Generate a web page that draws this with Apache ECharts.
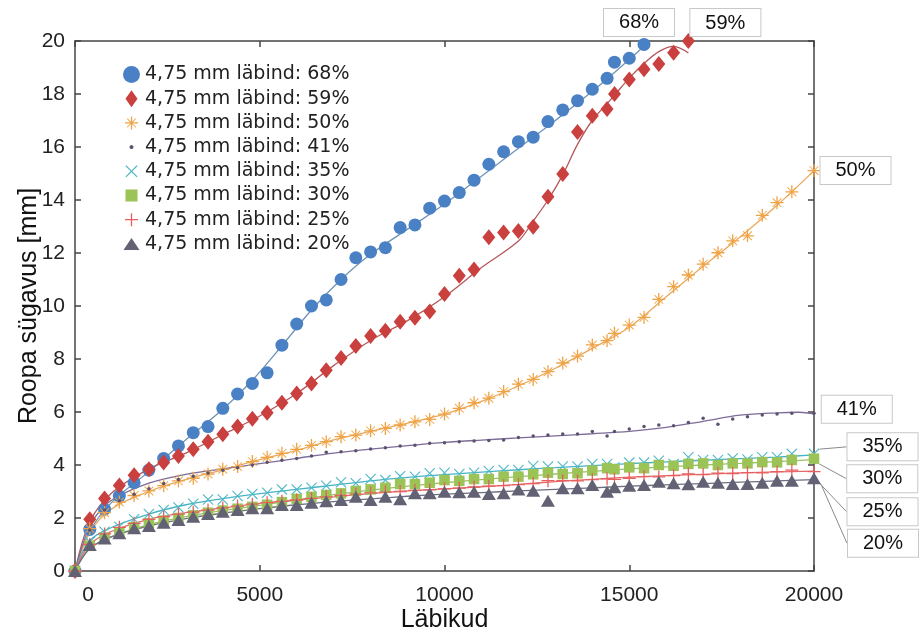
<!DOCTYPE html>
<html>
<head>
<meta charset="utf-8">
<script src="https://cdn.jsdelivr.net/npm/echarts@6/dist/echarts.min.js"></script>
<style>
  html, body { margin: 0; padding: 0; background: #fff; }
  #chart { width: 920px; height: 632px; }
</style>
</head>
<body>
<div id="chart"></div>
<script>
// Passes (x) at which rut depth was measured
const passes = [0, 400, 800, 1200, 1600, 2000, 2400, 2800, 3200, 3600, 4000, 4400, 4800, 5200, 5600,
  6000, 6400, 6800, 7200, 7600, 8000, 8400, 8800, 9200, 9600, 10000, 10400, 10800, 11200, 11600,
  12000, 12400, 12800, 13200, 13600, 14000, 14400, 14600, 15000, 15400, 15800, 16200, 16600, 17000,
  17400, 17800, 18200, 18600, 19000, 19400, 20000];

const shares = ['68%', '59%', '50%', '41%', '35%', '30%', '25%', '20%'];
const seriesNames = shares.map(s => '4,75 mm läbind: ' + s);

// Measured rut depth [mm]
const depth68 = [0, 1.57, 2.33, 2.83, 3.33, 3.81, 4.25, 4.72, 5.22, 5.45, 6.14, 6.68, 7.08, 7.48, 8.52,
  9.32, 10.0, 10.23, 11.0, 11.82, 12.04, 12.2, 12.96, 13.06, 13.69, 13.96, 14.28, 14.75, 15.35, 15.82,
  16.2, 16.37, 16.96, 17.4, 17.75, 18.18, 18.59, 19.2, 19.35, 19.87];
const depth59 = [0, 1.95, 2.74, 3.23, 3.61, 3.84, 4.09, 4.34, 4.59, 4.88, 5.16, 5.45, 5.75, 5.97, 6.35,
  6.7, 7.08, 7.58, 8.04, 8.49, 8.87, 9.07, 9.41, 9.56, 9.79, 10.45, 11.14, 11.38, 12.59, 12.77,
  12.83, 12.99, 14.12, 14.98, 16.57, 17.18, 17.43, 18.0, 18.55, 18.93, 19.13, 19.56, 20.0];
const depth50 = [0, 1.6, 2.2, 2.6, 2.85, 3.02, 3.22, 3.4, 3.5, 3.66, 3.84, 3.94, 4.13, 4.29, 4.44,
  4.59, 4.74, 4.88, 5.07, 5.13, 5.29, 5.38, 5.51, 5.63, 5.72, 5.92, 6.14, 6.35, 6.52, 6.77,
  7.05, 7.23, 7.52, 7.85, 8.11, 8.53, 8.69, 8.97, 9.28, 9.57, 10.25, 10.73, 11.17, 11.58,
  12.01, 12.46, 12.65, 13.42, 13.9, 14.31, 15.11];
const depth41 = [0, 1.55, 2.3, 2.65, 2.9, 3.1, 3.3, 3.45, 3.58, 3.7, 3.8, 3.9, 4.0, 4.1, 4.18,
  4.25, 4.34, 4.48, 4.5, 4.54, 4.6, 4.65, 4.72, 4.75, 4.82, 4.84, 4.88, 4.91, 4.92, 4.94,
  5.04, 5.09, 5.13, 5.17, 5.17, 5.26, 5.09, 5.26, 5.36, 5.45, 5.51, 5.48, 5.6, 5.76,
  5.54, 5.74, 5.82, 5.89, 5.92, 5.95, 5.95];
const depth35 = [0, 1.1, 1.48, 1.67, 1.95, 2.15, 2.3, 2.4, 2.54, 2.7, 2.7, 2.83, 2.91, 2.95, 3.08,
  3.08, 3.14, 3.22, 3.35, 3.31, 3.47, 3.43, 3.58, 3.56, 3.69, 3.71, 3.66, 3.71, 3.77, 3.81,
  3.81, 3.96, 3.94, 3.94, 3.94, 4.04, 4.04, 3.91, 4.09, 4.09, 4.16, 4.04, 4.29, 4.19,
  4.19, 4.25, 4.21, 4.29, 4.29, 4.42, 4.42];
const depth30 = [0, 0.95, 1.25, 1.45, 1.65, 1.8, 1.9, 2.0, 2.1, 2.2, 2.28, 2.35, 2.42, 2.5, 2.6,
  2.72, 2.8, 2.87, 2.93, 3.02, 3.08, 3.14, 3.28, 3.28, 3.33, 3.43, 3.4, 3.47, 3.47, 3.56,
  3.56, 3.65, 3.71, 3.66, 3.69, 3.79, 3.88, 3.84, 3.91, 3.88, 4.0, 3.97, 4.04, 4.06,
  4.0, 4.06, 4.06, 4.11, 4.1, 4.19, 4.24];
const depth25 = [0, 1.0, 1.4, 1.65, 1.8, 1.95, 2.05, 2.15, 2.22, 2.3, 2.38, 2.45, 2.52, 2.58, 2.63,
  2.68, 2.74, 2.8, 2.85, 2.9, 2.95, 2.98, 3.0, 3.04, 3.06, 3.1, 3.13, 3.17, 3.2, 3.22,
  3.26, 3.3, 3.41, 3.41, 3.4, 3.45, 3.48, 3.46, 3.5, 3.56, 3.55, 3.6, 3.66, 3.64,
  3.69, 3.68, 3.71, 3.7, 3.75, 3.81, 3.75];
const depth20 = [0, 0.98, 1.23, 1.42, 1.61, 1.7, 1.82, 1.92, 2.05, 2.15, 2.24, 2.3, 2.37, 2.37, 2.49,
  2.49, 2.58, 2.63, 2.68, 2.8, 2.68, 2.8, 2.71, 2.93, 2.93, 2.99, 2.97, 2.99, 2.91, 2.93,
  3.08, 3.03, 2.65, 3.12, 3.12, 3.25, 2.99, 3.16, 3.22, 3.25, 3.37, 3.31, 3.27, 3.37,
  3.33, 3.28, 3.28, 3.33, 3.41, 3.41, 3.5];

// Fitted trend curves [passes, depth]
const fit68 = [[0, 0], [400, 1.5], [1000, 2.6], [2000, 3.75], [3000, 4.95], [4000, 6.1], [4800, 7.2],
  [5600, 8.5], [6400, 9.85], [7200, 11.0], [8000, 11.95], [9000, 12.9], [10000, 13.85], [11000, 14.9],
  [12000, 15.95], [13000, 17.0], [14000, 18.1], [15000, 19.3], [15400, 19.8]];
const fit59 = [[0, 0], [400, 1.85], [1000, 2.95], [2000, 3.85], [3000, 4.45], [4000, 5.15], [5000, 5.85],
  [6000, 6.7], [7000, 7.75], [8000, 8.7], [9000, 9.45], [10000, 10.35], [11000, 11.45], [12000, 12.45],
  [12400, 13.2], [12800, 14.0], [13200, 14.95], [13600, 16.1], [14000, 17.0], [14600, 17.95],
  [15000, 18.6], [15400, 19.15], [15800, 19.6], [16200, 19.8], [16600, 19.55]];
const fit50 = [[0, 0], [400, 1.45], [1000, 2.35], [2000, 3.0], [3000, 3.45], [4000, 3.82], [5000, 4.2],
  [6000, 4.55], [7000, 4.95], [8000, 5.27], [9000, 5.58], [10000, 5.92], [11000, 6.4], [12000, 6.98],
  [13000, 7.65], [14000, 8.4], [15000, 9.2], [16000, 10.35], [17000, 11.5], [18000, 12.6],
  [19000, 13.8], [20000, 15.1]];
const fit41 = [[0, 0], [400, 1.7], [800, 2.45], [1200, 2.85], [2000, 3.32], [3000, 3.65], [4000, 3.85],
  [5000, 4.05], [6000, 4.25], [7000, 4.45], [8000, 4.6], [9000, 4.73], [10000, 4.85], [11000, 4.94],
  [12000, 5.02], [13000, 5.1], [14000, 5.18], [15000, 5.27], [16000, 5.42], [17000, 5.65],
  [18000, 5.88], [19000, 5.97], [19600, 5.99], [20000, 5.93]];
const fit35 = [[0, 0], [400, 1.15], [1000, 1.65], [2000, 2.15], [3000, 2.5], [4000, 2.73], [5000, 2.92],
  [6000, 3.08], [7000, 3.24], [8000, 3.4], [9000, 3.53], [10000, 3.64], [11000, 3.73], [12000, 3.82],
  [13000, 3.9], [14000, 3.98], [15000, 4.05], [16000, 4.12], [17000, 4.18], [18000, 4.24],
  [19000, 4.3], [20000, 4.38]];
const fit30 = [[0, 0], [400, 0.85], [1000, 1.3], [2000, 1.75], [3000, 2.05], [4000, 2.28], [5000, 2.48],
  [6000, 2.68], [7000, 2.88], [8000, 3.05], [9000, 3.2], [10000, 3.33], [11000, 3.45], [12000, 3.56],
  [13000, 3.66], [14000, 3.76], [15000, 3.85], [16000, 3.93], [17000, 4.0], [18000, 4.06],
  [19000, 4.13], [20000, 4.2]];
const fit25 = [[0, 0], [400, 1.0], [1000, 1.5], [2000, 1.95], [3000, 2.2], [4000, 2.38], [5000, 2.55],
  [6000, 2.68], [7000, 2.8], [8000, 2.92], [9000, 3.02], [10000, 3.1], [11000, 3.18], [12000, 3.27],
  [13000, 3.37], [14000, 3.46], [15000, 3.54], [16000, 3.6], [17000, 3.65], [18000, 3.7],
  [19000, 3.74], [20000, 3.77]];
const fit20 = [[0, 0], [400, 0.85], [1000, 1.3], [2000, 1.7], [3000, 1.98], [4000, 2.18], [5000, 2.35],
  [6000, 2.5], [7000, 2.62], [8000, 2.72], [9000, 2.82], [10000, 2.9], [11000, 2.96], [12000, 3.02],
  [13000, 3.08], [14000, 3.14], [15000, 3.2], [16000, 3.25], [17000, 3.3], [18000, 3.35],
  [19000, 3.4], [20000, 3.45]];

const yTicks = { min: 0, max: 20, step: 2 };
const xTicks = { min: 0, max: 20000, step: 5000 };

// ---- marker glyphs (24-unit box) ----
const plusPoly = [[10.8, 0], [13.2, 0], [13.2, 10.8], [24, 10.8], [24, 13.2], [13.2, 13.2], [13.2, 24],
  [10.8, 24], [10.8, 13.2], [0, 13.2], [0, 10.8], [10.8, 10.8]];
const crossPoly = [[1.7, 0], [12, 10.3], [22.3, 0], [24, 1.7], [13.7, 12], [24, 22.3], [22.3, 24],
  [12, 13.7], [1.7, 24], [0, 22.3], [10.3, 12], [0, 1.7]];
const starCross = crossPoly.map(([x, y]) => [12 + (x - 12) * 0.72, 12 + (y - 12) * 0.72]);
const dotPoly = Array.from({ length: 16 }, (_, k) =>
  [12 + 2.8 * Math.cos(k * Math.PI / 8), 12 + 2.8 * Math.sin(k * Math.PI / 8)]);

function glyph(polys, pad, framed) {
  const s = (24 - 2 * pad) / 24;
  let d = framed ? 'M0,0L0,0M24,24L24,24' : '';
  polys.forEach(p => {
    d += 'M' + p.map(([x, y]) => (pad + x * s).toFixed(2) + ',' + (pad + y * s).toFixed(2)).join('L') + 'Z';
  });
  return 'path://' + d;
}

const symPlus = glyph([plusPoly], 0, false);
const symCross = glyph([crossPoly], 0, false);
const symStar = glyph([plusPoly, starCross], 0, false);

const legendIcons = [
  'circle',
  glyph([[[12, 0], [20.5, 12], [12, 24], [3.5, 12]]], 0, true),
  glyph([plusPoly, starCross], 2.8, true),
  glyph([dotPoly], 0, true),
  glyph([crossPoly], 3.5, true),
  glyph([[[0, 0], [24, 0], [24, 24], [0, 24]]], 3.5, true),
  glyph([plusPoly], 2.8, true),
  glyph([[[12, 3.5], [23.3, 20.5], [0.7, 20.5]]], 0, true)
];

const markerColors = ['#4a80c4', '#c9403f', '#f0a345', '#5a5370', '#4fb8c6', '#9bc356', '#e85f5f', '#626274'];
const lineColors = ['#6f93b5', '#b5585c', '#eaa85a', '#7d6c99', '#46b4c4', '#9cc165', '#e66a6a', '#6e6e82'];
const symbols = ['circle', 'diamond', symStar, 'circle', symCross, 'rect', symPlus, 'triangle'];
const symbolSizes = [13, [13, 16], 13, 3.5, 11, 10.5, 13, [14, 12]];

const depths = [depth68, depth59, depth50, depth41, depth35, depth30, depth25, depth20];
const fits = [fit68, fit59, fit50, fit41, fit35, fit30, fit25, fit20];

const boxText = {
  fontFamily: 'Liberation Sans, Arial, sans-serif', fontSize: 20, color: '#111',
  backgroundColor: '#fff', borderColor: '#c8c8c8', borderWidth: 1, padding: [4, 15, 3, 15]
};
// placement of the end-of-curve tags
const tagPlacement = [
  { label: { position: 'top', distance: 2, offset: [-5, 0] } },
  { label: { position: 'top', distance: 2, offset: [37, 5] } },
  { label: { position: 'right', distance: 0 } },
  { label: { position: 'right', distance: 6, offset: [0, -4] } },
  { label: { position: 'right', distance: 5 }, layout: { dx: 23, dy: -7 } },
  { label: { position: 'right', distance: 5 }, layout: { dx: 23, dy: 20 } },
  { label: { position: 'right', distance: 5 }, layout: { dx: 22, dy: 40 } },
  { label: { position: 'right', distance: 5 }, layout: { dx: 22, dy: 65 } }
];

const series = [];
fits.forEach((f, i) => {
  series.push({
    name: 'trend ' + shares[i],
    type: 'line',
    data: f,
    smooth: 0.35,
    symbol: 'none',
    silent: true,
    z: 2,
    lineStyle: { color: lineColors[i], width: 1.3 },
    itemStyle: { color: lineColors[i] }
  });
});
depths.forEach((vals, i) => {
  const data = vals.map((v, k) => [passes[k], v]);
  const last = data.length - 1;
  const tp = tagPlacement[i];
  data[last] = {
    value: data[last],
    label: Object.assign({ show: true, formatter: shares[i] }, boxText, tp.label)
  };
  const s = {
    name: seriesNames[i],
    type: 'scatter',
    data: data,
    symbol: symbols[i],
    symbolSize: symbolSizes[i],
    clip: false,
    z: 3,
    itemStyle: { color: markerColors[i], opacity: 1 }
  };
  if (tp.layout) {
    s.labelLayout = tp.layout;
    s.labelLine = { show: true, lineStyle: { color: '#8a8a8a', width: 1 } };
  }
  series.push(s);
});

const axisLineStyle = { color: '#444', width: 1.5 };
const tickFont = { fontFamily: 'Liberation Sans, Arial, sans-serif', fontSize: 21, color: '#222' };

const chart = echarts.init(document.getElementById('chart'), null, { renderer: 'canvas' });
chart.setOption({
  animation: false,
  backgroundColor: '#fff',
  grid: { left: 75, right: 106, top: 41, bottom: 61, containLabel: false, outerBoundsMode: 'none' },
  legend: {
    orient: 'vertical',
    left: 118,
    top: 60,
    itemWidth: 17,
    itemHeight: 17,
    itemGap: 5.2,
    selectedMode: false,
    textStyle: { fontFamily: 'DejaVu Sans, Verdana, sans-serif', fontSize: 19, color: '#222', lineHeight: 17 },
    data: seriesNames.map((n, i) => ({ name: n, icon: legendIcons[i] }))
  },
  xAxis: [{
    type: 'value', min: xTicks.min, max: xTicks.max, interval: xTicks.step,
    name: 'Läbikud', nameLocation: 'middle', nameGap: 37, nameMoveOverlap: false,
    nameTextStyle: { fontFamily: 'Liberation Sans, Arial, sans-serif', fontSize: 25, color: '#111' },
    axisLine: { onZero: false, lineStyle: axisLineStyle },
    axisTick: { inside: true, length: 6, lineStyle: axisLineStyle },
    splitLine: { show: false },
    axisLabel: Object.assign({
      margin: 14,
      formatter: v => v === 0 ? '{z|0}' : String(v),
      rich: { z: Object.assign({ padding: [0, 0, 0, 26] }, tickFont) }
    }, tickFont)
  }, {
    type: 'value', position: 'top', min: xTicks.min, max: xTicks.max, interval: xTicks.step,
    axisLine: { onZero: false, lineStyle: axisLineStyle },
    axisTick: { inside: true, length: 6, lineStyle: axisLineStyle },
    axisLabel: { show: false }, splitLine: { show: false }
  }],
  yAxis: [{
    type: 'value', min: yTicks.min, max: yTicks.max, interval: yTicks.step,
    name: 'Roopa sügavus [mm]', nameLocation: 'middle', nameGap: 33, nameMoveOverlap: false,
    nameTextStyle: { fontFamily: 'Liberation Sans, Arial, sans-serif', fontSize: 25, color: '#111' },
    axisLine: { onZero: false, lineStyle: axisLineStyle },
    axisTick: { inside: true, length: 6, lineStyle: axisLineStyle },
    splitLine: { show: false },
    axisLabel: Object.assign({ margin: 10 }, tickFont)
  }, {
    type: 'value', position: 'right', min: yTicks.min, max: yTicks.max, interval: yTicks.step,
    axisLine: { onZero: false, lineStyle: axisLineStyle },
    axisTick: { inside: true, length: 6, lineStyle: axisLineStyle },
    axisLabel: { show: false }, splitLine: { show: false }
  }],
  series: series
});
</script>
</body>
</html>
